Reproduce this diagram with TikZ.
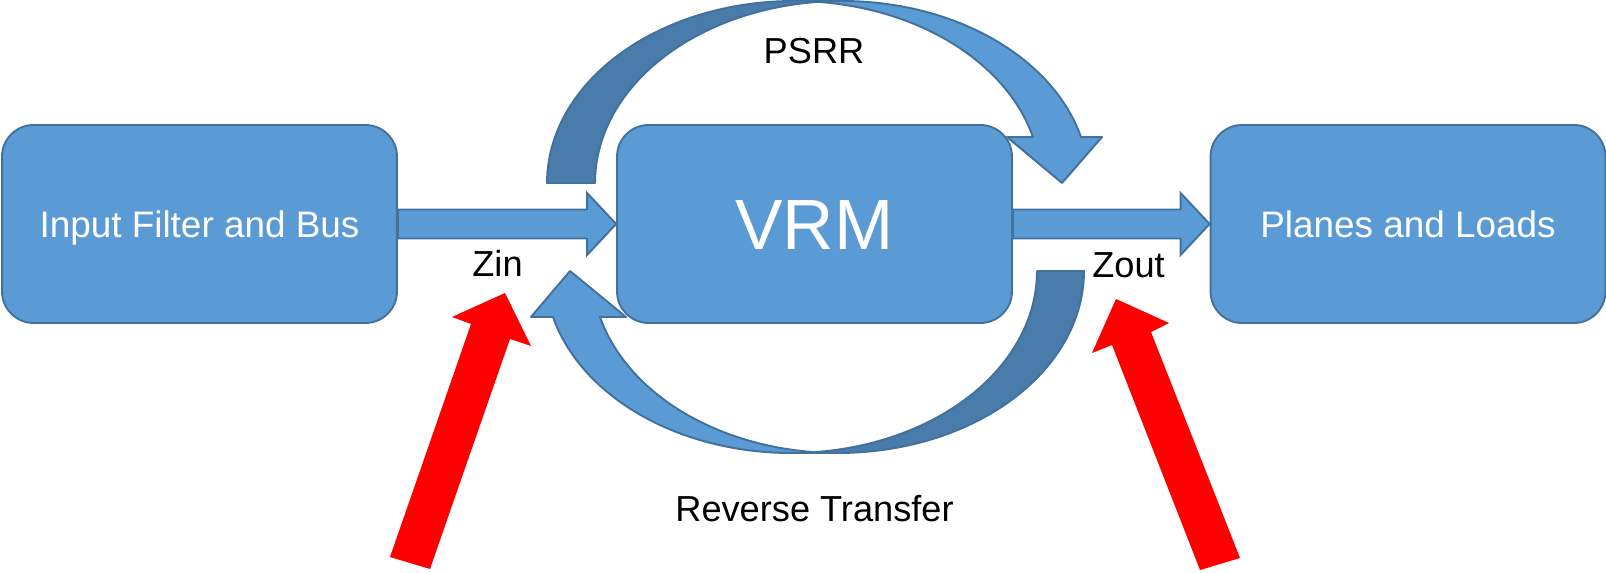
\documentclass[tikz,border=0pt]{standalone}
\usepackage{fontspec}
\setmainfont{Liberation Sans}
\usetikzlibrary{calc}

\definecolor{fillblue}{HTML}{5B9BD5}
\definecolor{edgeblue}{HTML}{41719C}
\definecolor{shadeblue}{HTML}{497CAA}

\begin{document}
\begin{tikzpicture}[x=0.02cm, y=-0.02cm,
  block/.style={draw=edgeblue, fill=fillblue, line width=1.1pt, rounded corners=18pt,
    minimum width=7.9cm, minimum height=3.96cm, inner sep=0pt, text=white,
    font=\fontsize{21}{25}\selectfont, text height=15pt, text depth=0pt},
  caption/.style={font=\fontsize{20.6}{24}\selectfont, anchor=base, inner sep=0pt},
  flatarrow/.style={draw=edgeblue, fill=fillblue, line width=1.1pt, line join=miter},
  ribbon/.style={draw=edgeblue, fill=fillblue, line width=1.1pt, line join=round},
  ribbonback/.style={ribbon, fill=shadeblue},
  redarrow/.style={fill=red, draw=none}]

% canvas
\fill[white] (0,0) rectangle (1606,573);
\useasboundingbox (0,0) rectangle (1606,573);

% blocks
\node[block] (in) at (199.5,224) {Input Filter and Bus};
\node[block, font=\fontsize{40.5}{48}\selectfont, text height=29pt] (vrm) at (814.5,224) {VRM};
\node[block] (out) at (1408,224) {Planes and Loads};

% forward block arrows
\draw[flatarrow] ($(in.east)+(0,-14.5)$) -- ($(vrm.west)+(-29,-14.5)$) -- ($(vrm.west)+(-29,-31)$)
  -- (vrm.west) -- ($(vrm.west)+(-29,31)$) -- ($(vrm.west)+(-29,14.5)$) -- ($(in.east)+(0,14.5)$) -- cycle;
\draw[flatarrow] ($(vrm.east)+(0,-14.5)$) -- ($(out.west)+(-29,-14.5)$) -- ($(out.west)+(-29,-31)$)
  -- (out.west) -- ($(out.west)+(-29,31)$) -- ($(out.west)+(-29,14.5)$) -- ($(vrm.east)+(0,14.5)$) -- cycle;

% PSRR ribbon over the top: back part, then front part with head
\draw[ribbonback] plot[domain=180:275.58, samples=60] ({794+247*cos(\x)}, {183+182*sin(\x)})
  -- plot[domain=264.42:180, samples=60] ({842+247*cos(\x)}, {183+182*sin(\x)}) -- cycle;
\draw[ribbon] (1062,183) -- (1007,137)
  -- plot[domain=345.36:270, samples=60] ({794+247*cos(\x)}, {183+182*sin(\x)})
  -- plot[domain=270:345.36, samples=60] ({842+247*cos(\x)}, {183+182*sin(\x)})
  -- (1102,137) -- cycle;

% reverse transfer ribbon underneath
\draw[ribbonback] plot[domain=0:95.48, samples=60] ({838+246*cos(\x)}, {271+182*sin(\x)})
  -- plot[domain=84.52:0, samples=60] ({791+246*cos(\x)}, {271+182*sin(\x)}) -- cycle;
\draw[ribbon] (570,271) -- (626,317)
  -- plot[domain=165.36:90, samples=60] ({838+246*cos(\x)}, {271+182*sin(\x)})
  -- plot[domain=90:165.36, samples=60] ({791+246*cos(\x)}, {271+182*sin(\x)})
  -- (531,317) -- cycle;

% labels
\node[caption] (psrr) at (814,64) {PSRR};
\node[caption] (rev) at (814.5,522) {Reverse Transfer};
\node[caption] (zin) at (497.5,277) {Zin};
\node[caption] (zout) at (1128.5,278) {Zout};

% red pointer arrows
\fill[redarrow] (390,557) -- (471,324) -- (452,317) -- (505,293) -- (531,346) -- (510,339) -- (430,569) -- cycle;
\fill[redarrow] (1200,570) -- (1112,345) -- (1092,353) -- (1116,299) -- (1169,323) -- (1151,332) -- (1240,558) -- cycle;

\end{tikzpicture}
\end{document}
